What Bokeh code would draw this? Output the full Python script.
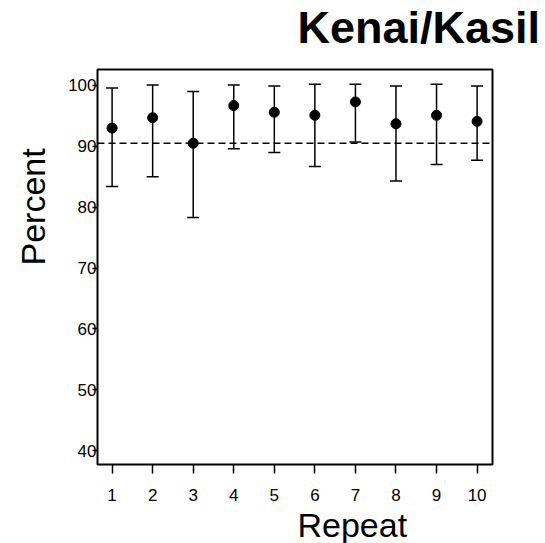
from bokeh.plotting import figure
from bokeh.models import ColumnDataSource, Whisker, TeeHead, Span, Title, FixedTicker, Range1d
from bokeh.embed import file_html
from bokeh.resources import INLINE

# ---- data ----
repeats = [1, 2, 3, 4, 5, 6, 7, 8, 9, 10]
percent = [93.0, 94.7, 90.5, 96.7, 95.6, 95.1, 97.3, 93.7, 95.1, 94.1]
upper = [99.6, 100.1, 99.0, 100.1, 99.9, 100.2, 100.2, 99.9, 100.2, 99.9]
lower = [83.4, 85.0, 78.3, 89.6, 89.0, 86.7, 90.7, 84.3, 87.0, 87.7]
reference_line = 90.5
y_ticks = [40, 50, 60, 70, 80, 90, 100]
title_text = "Kenai/Kasilof"
x_title = "Repeat"
y_title = "Percent"

FONT = "Liberation Sans"

src = ColumnDataSource(dict(x=repeats, y=percent, upper=upper, lower=lower))

p = figure(
    output_backend="svg", toolbar_location=None,
    width=541, height=543,
    min_border_left=97, min_border_right=49,
    min_border_top=69, min_border_bottom=79,
    x_range=Range1d(0.64, 10.38), y_range=Range1d(37.7, 102.63),
    background_fill_color="white", border_fill_color="white",
)
p.title = None
p.outline_line_color = "black"
p.outline_line_width = 2
p.xgrid.visible = False
p.ygrid.visible = False

# axes
p.xaxis.ticker = FixedTicker(ticks=repeats)
p.yaxis.ticker = FixedTicker(ticks=y_ticks)
for ax in (p.xaxis, p.yaxis):
    ax.axis_line_color = None
    ax.major_tick_line_color = "black"
    ax.major_tick_line_width = 1.5
    ax.minor_tick_line_color = None
    ax.major_tick_in = 0
    ax.major_label_text_font = FONT
    ax.major_label_text_font_size = "17px"
    ax.major_label_text_color = "black"
p.xaxis.major_tick_out = 9
p.xaxis.major_label_standoff = 15
p.yaxis.major_tick_out = 5
p.yaxis.major_label_standoff = -4

# reference dashed line
p.add_layout(Span(location=reference_line, dimension="width",
                  line_color="black", line_width=1.5, line_dash="7 4"))

# error bars
w = Whisker(source=src, base="x", upper="upper", lower="lower",
            line_color="black", line_width=1.5,
            upper_head=TeeHead(size=12, line_color="black", line_width=1.5),
            lower_head=TeeHead(size=12, line_color="black", line_width=1.5))
p.add_layout(w)

p.scatter("x", "y", source=src, size=10, marker="circle",
          fill_color="black", line_color="black")

# titles (spacer first so the main title sits higher)
p.add_layout(Title(text=" ", text_font_size="1px", standoff=13,
                   text_color="white"), "above")
p.add_layout(Title(text=title_text, align="left", offset=200, standoff=0,
                   vertical_align="middle",
                   text_font=FONT, text_font_style="bold",
                   text_font_size="45px", text_color="black"), "above")
p.add_layout(Title(text=x_title, align="left", offset=200, standoff=0,
                   vertical_align="bottom",
                   text_font=FONT, text_font_style="normal",
                   text_font_size="34px", text_color="black"), "below")
p.add_layout(Title(text=y_title, align="left", offset=199, standoff=24,
                   vertical_align="top",
                   text_font=FONT, text_font_style="normal",
                   text_font_size="34px", text_color="black"), "left")

open("out.html", "w").write(file_html(p, INLINE))
